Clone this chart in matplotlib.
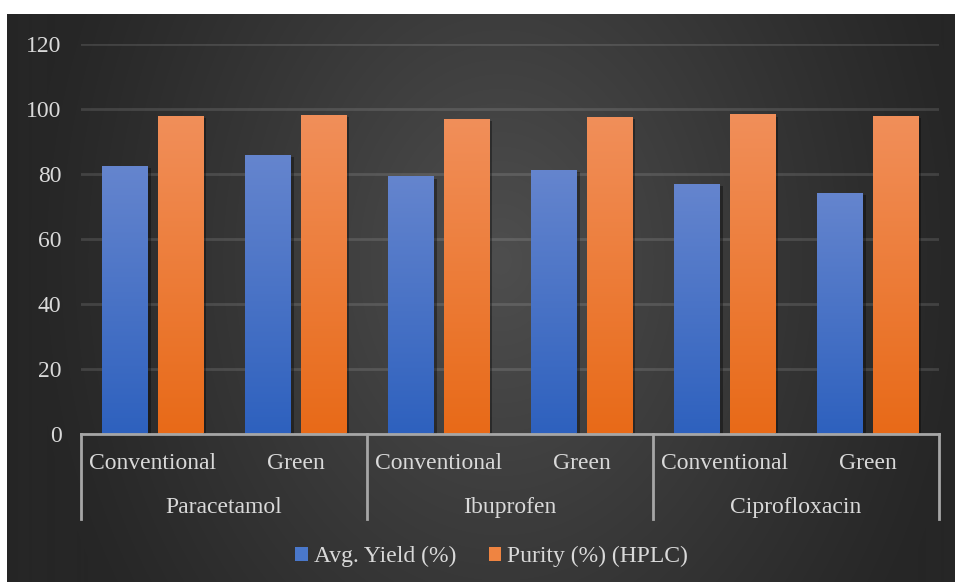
import matplotlib.pyplot as plt
import matplotlib.patheffects as pe
import numpy as np
from matplotlib.colors import LinearSegmentedColormap
from matplotlib.patches import Patch
import matplotlib.transforms as mtransforms

plt.rcParams['font.family'] = ['Liberation Serif', 'DejaVu Serif']

# data
drugs = ['Paracetamol', 'Ibuprofen', 'Ciprofloxacin']
methods = ['Conventional', 'Green']
avg_yield = [82.3, 85.7, 79.2, 81.1, 76.8, 74.0]
purity = [97.7, 98.0, 96.8, 97.4, 98.3, 97.7]
series_names = ['Avg. Yield (%)', 'Purity (%) (HPLC)']

txt_col = '#d9d9d9'
W, H = 955, 582

fig = plt.figure(figsize=(W / 100, H / 100), dpi=100, facecolor='white')

# dark panel with radial gradient
bg = fig.add_axes([7 / W, 0, 1 - 7 / W, 1 - 14 / H])
yy, xx = np.mgrid[14:H, 7:W]
r = np.sqrt(((xx - 500) / 470.0) ** 2 + ((yy - 260) / 620.0) ** 2)
val = 38 + 40 * np.clip(1 - r, 0, 1) ** 1.1
img = np.dstack([val, val, val]) / 255.0
bg.imshow(img, aspect='auto', extent=[0, 1, 0, 1])
bg.axis('off')

ax = fig.add_axes([81 / W, (H - 433.5) / H, (939 - 81) / W, (433.5 - 44) / H])
ax.set_facecolor('none')
ax.set_zorder(2)

x = np.arange(len(avg_yield))
w = 0.315
off = 0.193

blue_cm = LinearSegmentedColormap.from_list('b', ['#2e61be', '#6585ce'])
orng_cm = LinearSegmentedColormap.from_list('o', ['#e86a18', '#f18f5a'])
grad = np.linspace(0, 1, 256).reshape(-1, 1)

shadow = [pe.SimplePatchShadow(offset=(2.5, -1.5), shadow_rgbFace='black', alpha=0.35), pe.Normal()]
b1 = ax.bar(x - off, avg_yield, w, color='#4472c4', zorder=3, path_effects=shadow)
b2 = ax.bar(x + off, purity, w, color='#ed7d31', zorder=3, path_effects=shadow)

for bars, cm in [(b1, blue_cm), (b2, orng_cm)]:
    for rect in bars:
        x0 = rect.get_x()
        x1 = x0 + rect.get_width()
        h = rect.get_height()
        im = ax.imshow(grad, extent=[x0, x1, 0, h], origin='lower', aspect='auto', cmap=cm, zorder=4)
        im.set_clip_path(rect)

ax.set_xlim(-0.5, 5.5)
ax.set_ylim(0, 120)
ax.set_yticks(np.arange(0, 121, 20))
ax.yaxis.grid(True, color='#ffffff', alpha=0.12, lw=2)
ax.set_axisbelow(True)
ax.tick_params(axis='y', length=0, pad=14, labelsize=17, labelcolor=txt_col)
ax.set_xticks([])
for s in ax.spines.values():
    s.set_visible(False)

# two-level category axis
trans = mtransforms.blended_transform_factory(ax.transData, ax.transAxes)
line_col = '#a6a6a6'
ax.plot([-0.5, 5.5], [0, 0], transform=trans, color=line_col, lw=2, clip_on=False, zorder=5)
for sx in [-0.5, 1.5, 3.5, 5.5]:
    ax.plot([sx, sx], [0, -0.2195], transform=trans, color=line_col, lw=2, clip_on=False, zorder=5)
for i in x:
    ax.text(i, -0.078, methods[i % 2], transform=trans, ha='center', va='center',
            fontsize=17, color=txt_col)
for g, name in enumerate(drugs):
    ax.text(2 * g + 0.5, -0.189, name, transform=trans, ha='center', va='center',
            fontsize=17, color=txt_col)

handles = [Patch(facecolor='#4a78cb'), Patch(facecolor='#ef8441')]
fig.legend(handles, series_names, loc='center', bbox_to_anchor=(0.515, 0.044), ncol=2,
           frameon=False, fontsize=17, labelcolor=txt_col, handlelength=0.55, handleheight=0.55,
           handletextpad=0.25, columnspacing=1.35)

fig.savefig('out.png', dpi=100, facecolor=fig.get_facecolor())
